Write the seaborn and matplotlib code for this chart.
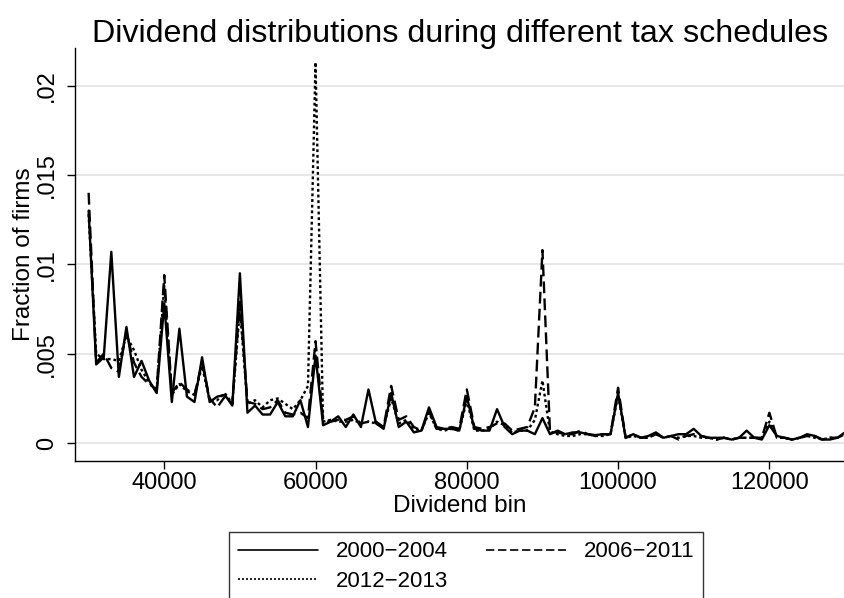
import numpy as np
import pandas as pd
import matplotlib
matplotlib.use("Agg")
import matplotlib.pyplot as plt
import seaborn as sns

bins = list(range(30000, 131000, 1000))

s_2000_2004 = [
    0.0130, 0.0044, 0.0048, 0.0107, 0.0037, 0.0065, 0.0037, 0.0046, 0.0035, 0.0028,
    0.0078, 0.0023, 0.0064, 0.0026, 0.0023, 0.0048, 0.0023, 0.0026, 0.0027, 0.0021,
    0.0095, 0.0017, 0.0021, 0.0016, 0.0016, 0.0023, 0.0015, 0.0015, 0.0024, 0.0009,
    0.0049, 0.0010, 0.0012, 0.0015, 0.0009, 0.0016, 0.0009, 0.0030, 0.0011, 0.0008,
    0.0028, 0.0009, 0.0012, 0.0006, 0.0007, 0.0020, 0.0009, 0.0008, 0.0008, 0.0007,
    0.0026, 0.0008, 0.0007, 0.0007, 0.0019, 0.0009, 0.0005, 0.0007, 0.0007, 0.0005,
    0.0014, 0.0005, 0.0007, 0.0005, 0.0006, 0.0006, 0.0005, 0.00045, 0.0005, 0.0005,
    0.0028, 0.0003, 0.0005, 0.0003, 0.0004, 0.0006, 0.0003, 0.0004, 0.0005, 0.0005,
    0.0008, 0.0004, 0.0003, 0.0003, 0.0003, 0.0002, 0.0003, 0.0007, 0.0003, 0.0002,
    0.0010, 0.0004, 0.0003, 0.0002, 0.0003, 0.0005, 0.0004, 0.0002, 0.0002, 0.0003,
    0.0006,
]

s_2006_2011 = [
    0.0140, 0.0045, 0.0050, 0.0042, 0.0040, 0.0062, 0.0045, 0.0037, 0.0033, 0.0030,
    0.0094, 0.0028, 0.0034, 0.0030, 0.0027, 0.0045, 0.0025, 0.0020, 0.0026, 0.0022,
    0.0079, 0.0023, 0.0022, 0.0019, 0.0020, 0.0024, 0.0017, 0.0016, 0.0017, 0.0014,
    0.0057, 0.0013, 0.0012, 0.0013, 0.0013, 0.0015, 0.0011, 0.0012, 0.0012, 0.0009,
    0.0032, 0.0013, 0.0015, 0.0009, 0.0007, 0.0018, 0.0008, 0.0008, 0.0009, 0.0008,
    0.0030, 0.0009, 0.0008, 0.0009, 0.0011, 0.0011, 0.0007, 0.0008, 0.0009, 0.0020,
    0.0108, 0.0006, 0.0006, 0.0005, 0.0005, 0.0007, 0.0005, 0.0004, 0.0005, 0.0005,
    0.0031, 0.0003, 0.0005, 0.0003, 0.0003, 0.0005, 0.0003, 0.0004, 0.0002, 0.0004,
    0.0005, 0.0004, 0.0003, 0.0002, 0.0003, 0.0002, 0.0003, 0.0003, 0.0003, 0.0003,
    0.0017, 0.0003, 0.0003, 0.0002, 0.0003, 0.0004, 0.0004, 0.0002, 0.0003, 0.0003,
    0.0005,
]

s_2012_2013 = [
    0.0128, 0.0050, 0.0047, 0.0047, 0.0046, 0.0060, 0.0052, 0.0041, 0.0034, 0.0029,
    0.0088, 0.0027, 0.0033, 0.0029, 0.0027, 0.0043, 0.0024, 0.0024, 0.0028, 0.0022,
    0.0075, 0.0022, 0.0024, 0.0020, 0.0024, 0.0025, 0.0022, 0.0019, 0.0024, 0.0032,
    0.0213, 0.0012, 0.0013, 0.0012, 0.0012, 0.0013, 0.0011, 0.0012, 0.0011, 0.0009,
    0.0025, 0.0011, 0.0013, 0.0008, 0.0007, 0.0017, 0.0008, 0.0007, 0.0008, 0.0007,
    0.0024, 0.0007, 0.0007, 0.0008, 0.0012, 0.0010, 0.0006, 0.0007, 0.0007, 0.0013,
    0.0035, 0.0006, 0.0005, 0.0004, 0.0004, 0.0005, 0.0005, 0.0004, 0.0004, 0.0005,
    0.0027, 0.0003, 0.0004, 0.0003, 0.0003, 0.0005, 0.0003, 0.0004, 0.0003, 0.0004,
    0.0004, 0.0003, 0.0003, 0.0002, 0.0003, 0.0002, 0.0003, 0.0003, 0.0003, 0.0003,
    0.0012, 0.0003, 0.0003, 0.0002, 0.0003, 0.0004, 0.0003, 0.0002, 0.0003, 0.0003,
    0.0005,
]

periods = ["2000\u22122004", "2006\u22122011", "2012\u22122013"]
x_ticks = [40000, 60000, 80000, 100000, 120000]
y_ticks = [0, 0.005, 0.01, 0.015, 0.02]
y_tick_labels = ["0", ".005", ".01", ".015", ".02"]

df = pd.concat([
    pd.DataFrame({"bin": bins, "frac": s_2000_2004, "period": periods[0]}),
    pd.DataFrame({"bin": bins, "frac": s_2006_2011, "period": periods[1]}),
    pd.DataFrame({"bin": bins, "frac": s_2012_2013, "period": periods[2]}),
])

sns.set_style("white")
plt.rcParams["font.family"] = ["Liberation Sans", "DejaVu Sans"]
for key in ["text.color", "axes.labelcolor", "xtick.color", "ytick.color"]:
    plt.rcParams[key] = "black"

fig = plt.figure(figsize=(8.45, 5.98), dpi=100)
ax = fig.add_axes([75 / 845, 1 - 461 / 598, (845 - 75) / 845, (461 - 48) / 598])

dash_map = {
    periods[0]: "",
    periods[1]: (5, 2.2),
    periods[2]: (1.2, 1.2),
}
sns.lineplot(data=df, x="bin", y="frac", style="period", dashes=dash_map,
             color="black", linewidth=1.7, ax=ax, legend=True, sort=False)

ax.set_xlim(28200, 130000)
ax.set_ylim(-0.001, 0.0221)
ax.set_xticks(x_ticks)
ax.set_xticklabels([str(t) for t in x_ticks], fontsize=17)
ax.set_yticks(y_ticks)
ax.set_yticklabels(y_tick_labels, fontsize=17, rotation=90, va="center")

ax.yaxis.grid(True, color="#e6e6e6", linewidth=1.4)
ax.xaxis.grid(False)
ax.set_axisbelow(True)
for side in ["top", "right"]:
    ax.spines[side].set_visible(False)
for side in ["left", "bottom"]:
    ax.spines[side].set_color("black")
    ax.spines[side].set_linewidth(1.0)
ax.tick_params(axis="x", which="major", direction="out", length=6, width=1,
               color="black", bottom=True, pad=2)
ax.tick_params(axis="y", which="major", direction="out", length=6, width=1,
               color="black", left=True, pad=6)

ax.set_xlabel("Dividend bin", fontsize=17.5, labelpad=1)
ax.set_ylabel("Fraction of firms", fontsize=17.5, labelpad=1)
ax.set_title("Dividend distributions during different tax schedules",
             fontsize=23.2, pad=4, x=0.5)

handles, labels = ax.get_legend_handles_labels()
ax.get_legend().remove()
order = [0, 2, 1]
leg = fig.legend([handles[i] for i in order], [labels[i] for i in order],
                 loc="upper center", ncol=2,
                 bbox_to_anchor=(466 / 845, 1 - 532 / 598), borderaxespad=0,
                 frameon=True, fancybox=False, edgecolor="black", fontsize=16,
                 handlelength=3.6, columnspacing=1.7, borderpad=0.42,
                 labelspacing=0.4, handletextpad=0.8)
leg.get_frame().set_linewidth(1.0)
for h in leg.get_lines():
    h.set_linewidth(1.2)

fig.savefig("out.png", dpi=100)
